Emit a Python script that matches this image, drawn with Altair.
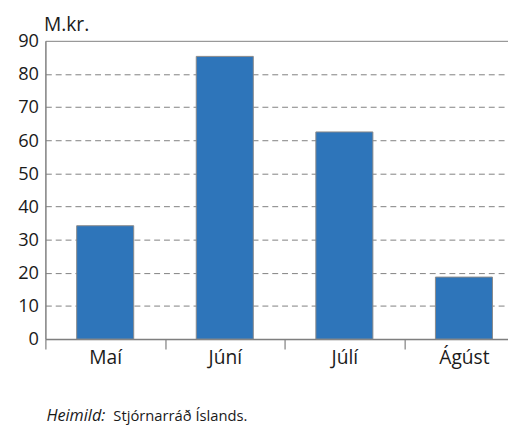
import altair as alt
import pandas as pd

months = ["Maí", "Júní", "Júlí", "Ágúst"]
values = [34.2, 85.3, 62.5, 18.7]
y_ticks = [0, 10, 20, 30, 40, 50, 60, 70, 80, 90]
source_label = ["Heimild:"]
source_text = ["Stjórnarráð Íslands."]

df = pd.DataFrame({"month": months, "value": values})

FONT = "Open Sans"
GRAY = "#7f7f7f"
TXT = "#1a1a1a"

bars = alt.Chart(df).mark_bar(
    color="#2E75BA", stroke="#8a8a8a", strokeWidth=1,
    width=alt.RelativeBandSize(0.477),
).encode(
    x=alt.X(
        "month:N",
        sort=months,
        scale=alt.Scale(range=[0, 486], paddingInner=0, paddingOuter=0),
        axis=alt.Axis(
            title=None,
            labelAngle=0,
            tickBand="extent",
            tickSize=10,
            tickColor=GRAY,
            tickWidth=1.2,
            domainColor=GRAY,
            domainWidth=1.5,
            labelPadding=0,
            labelFontSize=19.5,
            labelFont=FONT,
            labelColor=TXT,
            grid=False,
        ),
    ),
    y=alt.Y(
        "value:Q",
        scale=alt.Scale(domain=[0, 90], nice=False),
        axis=alt.Axis(
            values=y_ticks,
            title="M.kr.",
            titleAngle=0,
            titleAlign="left",
            titleBaseline="alphabetic",
            titleX=-2,
            titleY=-10,
            titleFont=FONT,
            titleFontSize=19.5,
            titleFontWeight="normal",
            titleColor=TXT,
            tickSize=0,
            labelPadding=7,
            labelFontSize=18.5,
            labelFont=FONT,
            labelColor=TXT,
            domainColor=GRAY,
            domainWidth=1.5,
            grid=True,
            gridColor=GRAY,
            gridWidth=1,
            gridDash=alt.condition(
                "datum.value == 90 || datum.value == 0",
                alt.value([]),
                alt.value([6, 4]),
            ),
        ),
    ),
)

src1 = alt.Chart(pd.DataFrame({"t": source_label})).mark_text(
    font=FONT, fontSize=16.5, fontStyle="italic",
    align="left", baseline="alphabetic", color=TXT
).encode(text="t:N", x=alt.value(1), y=alt.value(386))

src2 = alt.Chart(pd.DataFrame({"t": source_text})).mark_text(
    font=FONT, fontSize=15,
    align="left", baseline="alphabetic", color=TXT
).encode(text="t:N", x=alt.value(69), y=alt.value(386))

chart = alt.layer(bars, src1, src2).properties(
    width=470,
    height=303,
    autosize=alt.AutoSizeParams(type="none"),
    padding={"left": 38, "top": 30, "right": 0, "bottom": 86},
).configure_view(stroke=None)

chart.save("out.html", embed_options={"renderer": "svg", "actions": False})
